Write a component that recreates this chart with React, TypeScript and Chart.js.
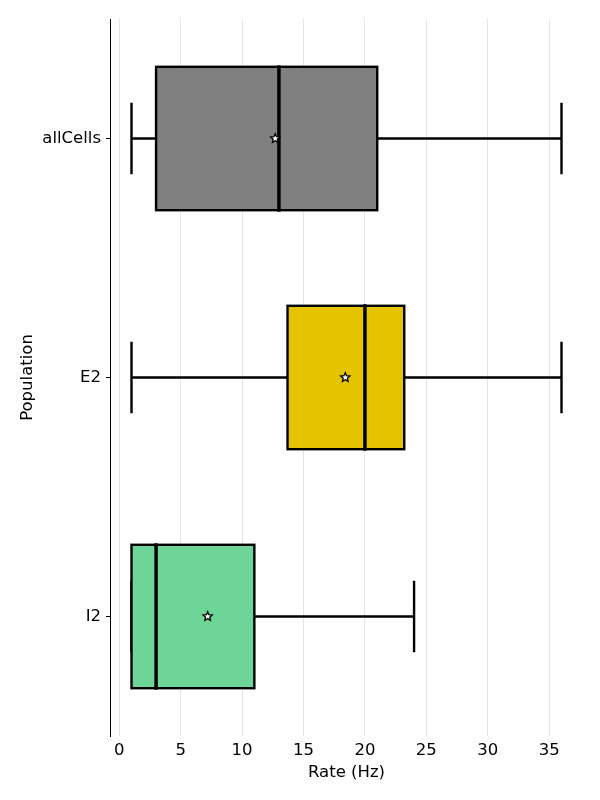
import React, { useEffect, useRef } from "react";
import { Chart, registerables } from "chart.js";

Chart.register(...registerables);

const categories = ["allCells", "E2", "I2"];
const whiskerLow = [1, 1, 1];
const q1 = [3, 13.7, 1];
const medians = [13, 20, 3];
const q3 = [21, 23.2, 11];
const whiskerHigh = [36, 36, 24];
const means = [12.7, 18.4, 7.2];
const boxColors = ["#808080", "#E6C300", "#6DD597"];
const xTicks = [0, 5, 10, 15, 20, 25, 30, 35];

const FONT = "'DejaVu Sans', sans-serif";

function drawStar(ctx: CanvasRenderingContext2D, cx: number, cy: number, rOuter: number, rInner: number) {
  ctx.beginPath();
  for (let i = 0; i < 10; i++) {
    const r = i % 2 === 0 ? rOuter : rInner;
    const a = -Math.PI / 2 + (i * Math.PI) / 5;
    const x = cx + r * Math.cos(a);
    const y = cy + r * Math.sin(a);
    if (i === 0) ctx.moveTo(x, y);
    else ctx.lineTo(x, y);
  }
  ctx.closePath();
  ctx.fillStyle = "#ffffff";
  ctx.fill();
  ctx.lineWidth = 1.3;
  ctx.strokeStyle = "#000000";
  ctx.stroke();
}

const boxPlugin = {
  id: "boxExtras",
  beforeDatasetsDraw(chart: any) {
    const { ctx, scales } = chart;
    const xs = scales.x;
    const ys = scales.y;
    const meta = chart.getDatasetMeta(0);
    ctx.save();
    ctx.strokeStyle = "#000";
    ctx.lineWidth = 2.4;
    categories.forEach((_, i) => {
      const bar = meta.data[i];
      const cy = ys.getPixelForValue(i);
      const half = bar.height / 2;
      const capHalf = half / 2;
      const xl = xs.getPixelForValue(whiskerLow[i]);
      const xq1 = xs.getPixelForValue(q1[i]);
      const xq3 = xs.getPixelForValue(q3[i]);
      const xh = xs.getPixelForValue(whiskerHigh[i]);
      ctx.beginPath();
      ctx.moveTo(xl, cy);
      ctx.lineTo(xq1, cy);
      ctx.moveTo(xq3, cy);
      ctx.lineTo(xh, cy);
      ctx.moveTo(xl, cy - capHalf);
      ctx.lineTo(xl, cy + capHalf);
      ctx.moveTo(xh, cy - capHalf);
      ctx.lineTo(xh, cy + capHalf);
      ctx.stroke();
    });
    ctx.restore();
  },
  afterDatasetsDraw(chart: any) {
    const { ctx, scales } = chart;
    const xs = scales.x;
    const ys = scales.y;
    const meta = chart.getDatasetMeta(0);
    ctx.save();
    categories.forEach((_, i) => {
      const bar = meta.data[i];
      const cy = ys.getPixelForValue(i);
      const half = bar.height / 2;
      const xq1 = xs.getPixelForValue(q1[i]);
      const xq3 = xs.getPixelForValue(q3[i]);
      ctx.strokeStyle = "#000";
      ctx.lineWidth = 2.4;
      ctx.strokeRect(xq1, cy - half, xq3 - xq1, 2 * half);
      const xm = xs.getPixelForValue(medians[i]);
      ctx.lineWidth = 3.5;
      ctx.beginPath();
      ctx.moveTo(xm, cy - half - 1.5);
      ctx.lineTo(xm, cy + half + 1.5);
      ctx.stroke();
      const xmean = xs.getPixelForValue(means[i]);
      drawStar(ctx, xmean, cy, 4.8, 2.2);
    });
    ctx.restore();
  },
};

export default function App() {
  const ref = useRef<HTMLCanvasElement | null>(null);
  useEffect(() => {
    document.body.style.margin = "0";
    const canvas = ref.current;
    if (!canvas) return;
    const chart = new Chart(canvas, {
      type: "bar",
      data: {
        labels: categories,
        datasets: [
          {
            data: categories.map((_, i) => [q1[i], q3[i]]) as any,
            backgroundColor: boxColors,
            borderWidth: 0,
            borderSkipped: false,
            barPercentage: 0.6,
            categoryPercentage: 1,
          },
        ],
      },
      options: {
        animation: false,
        responsive: false,
        indexAxis: "y",
        layout: { padding: { top: 19, right: 17, left: 0, bottom: 0 } },
        plugins: { legend: { display: false }, tooltip: { enabled: false } },
        scales: {
          x: {
            type: "linear",
            min: -0.75,
            max: 37.75,
            afterBuildTicks: (scale: any) => {
              scale.ticks = xTicks.map((v) => ({ value: v }));
            },
            afterFit: (scale: any) => {
              scale.height = 64;
            },
            grid: { color: "#e4e4e4", lineWidth: 1, drawTicks: false },
            border: { display: false },
            ticks: {
              color: "#000",
              padding: 5,
              font: { family: FONT, size: 16.5 },
            },
            title: {
              display: true,
              text: "Rate (Hz)",
              color: "#000",
              font: { family: FONT, size: 16.5 },
              padding: { top: 0, bottom: 17 },
            },
          },
          y: {
            type: "category",
            offset: true,
            afterFit: (scale: any) => {
              scale.width = 110;
            },
            grid: {
              display: true,
              offset: false,
              drawOnChartArea: false,
              drawTicks: true,
              tickLength: 4,
              color: "#000",
            },
            border: { display: true, color: "#000", width: 1 },
            ticks: {
              color: "#000",
              padding: 5,
              font: { family: FONT, size: 16.5 },
            },
            title: {
              display: true,
              text: "Population",
              color: "#000",
              font: { family: FONT, size: 16.5 },
              padding: { top: 18, bottom: 0 },
            },
          },
        },
      },
      plugins: [boxPlugin],
    } as any);
    return () => chart.destroy();
  }, []);
  return (
    <div style={{ position: "absolute", left: 0, top: 0, width: 600, height: 800 }}>
      <canvas ref={ref} width={600} height={800} />
    </div>
  );
}
